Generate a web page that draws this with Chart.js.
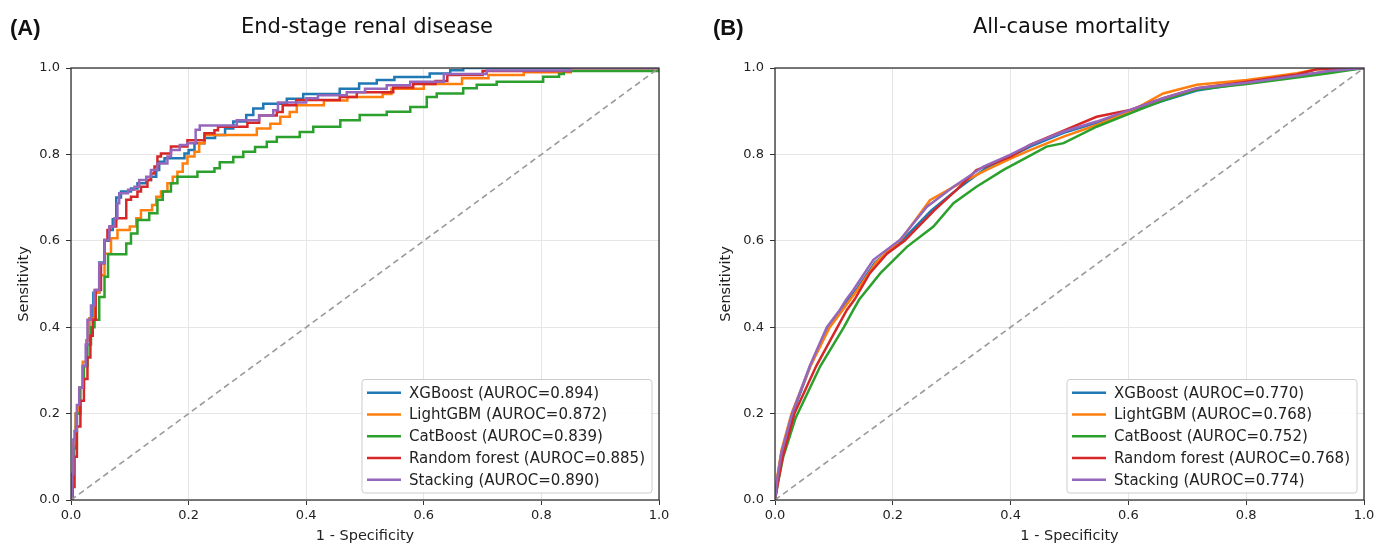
<!DOCTYPE html>
<html>
<head>
<meta charset="utf-8">
<title>ROC curves</title>
<script src="https://cdn.jsdelivr.net/npm/chart.js@4.4.1/dist/chart.umd.min.js"></script>
<style>
    html, body { margin: 0; padding: 0; background: #ffffff; overflow: hidden; }
    .panel { position: absolute; top: 0; height: 545px; }
    #panel-a { left: 0; width: 688px; }
    #panel-b { left: 688px; width: 700px; }
</style>
</head>
<body>
<div class="panel" id="panel-a"><canvas id="chart-a" width="688" height="545"></canvas></div>
<div class="panel" id="panel-b"><canvas id="chart-b" width="700" height="545"></canvas></div>
<script>
var model_names = ["XGBoost", "LightGBM", "CatBoost", "Random forest", "Stacking"];
var model_colors = ["#1f77b4", "#ff7f0e", "#2ca02c", "#d62728", "#9467bd"];
var esrd_auroc = [0.894, 0.872, 0.839, 0.885, 0.890];
var mort_auroc = [0.770, 0.768, 0.752, 0.768, 0.774];
var axis_ticks = [0, 0.2, 0.4, 0.6, 0.8, 1.0];

// End-stage renal disease: [1 - specificity, sensitivity], each point is where the step rises to
var esrd_xgb = [[0,0],[0.002,0.05],[0.004,0.12],[0.008,0.2],[0.014,0.26],[0.02,0.31],[0.026,0.37],[0.031,0.42],[0.038,0.48],[0.048,0.55],[0.057,0.6],[0.065,0.625],[0.071,0.65],[0.077,0.7],[0.085,0.714],[0.102,0.721],[0.113,0.733],[0.128,0.741],[0.136,0.748],[0.145,0.764],[0.15,0.783],[0.159,0.791],[0.193,0.802],[0.2,0.81],[0.21,0.826],[0.227,0.838],[0.245,0.845],[0.262,0.86],[0.276,0.876],[0.298,0.891],[0.31,0.906],[0.327,0.917],[0.367,0.929],[0.395,0.94],[0.457,0.952],[0.49,0.964],[0.52,0.972],[0.55,0.979],[0.61,0.987],[0.645,0.995],[0.667,1],[1,1]];
var esrd_lgb = [[0,0],[0.002,0.06],[0.004,0.13],[0.008,0.2],[0.014,0.26],[0.02,0.32],[0.026,0.37],[0.031,0.42],[0.04,0.48],[0.048,0.52],[0.057,0.57],[0.068,0.606],[0.079,0.625],[0.1,0.633],[0.111,0.652],[0.119,0.671],[0.138,0.683],[0.145,0.702],[0.153,0.714],[0.164,0.733],[0.173,0.748],[0.181,0.76],[0.19,0.779],[0.198,0.795],[0.21,0.806],[0.218,0.826],[0.227,0.845],[0.316,0.86],[0.339,0.871],[0.356,0.887],[0.372,0.898],[0.384,0.914],[0.43,0.925],[0.47,0.933],[0.53,0.94],[0.545,0.952],[0.6,0.963],[0.665,0.976],[0.71,0.984],[0.77,0.99],[0.85,1],[1,1]];
var esrd_cat = [[0,0],[0.002,0.05],[0.005,0.12],[0.01,0.2],[0.016,0.26],[0.022,0.31],[0.028,0.36],[0.034,0.4],[0.04,0.417],[0.048,0.47],[0.057,0.517],[0.063,0.569],[0.094,0.594],[0.102,0.617],[0.113,0.648],[0.133,0.664],[0.147,0.695],[0.156,0.714],[0.17,0.733],[0.181,0.748],[0.215,0.76],[0.244,0.768],[0.253,0.782],[0.276,0.794],[0.293,0.806],[0.313,0.817],[0.333,0.829],[0.35,0.84],[0.389,0.852],[0.412,0.864],[0.458,0.879],[0.491,0.891],[0.537,0.899],[0.577,0.91],[0.605,0.933],[0.622,0.941],[0.667,0.953],[0.69,0.961],[0.724,0.968],[0.803,0.98],[0.83,0.986],[0.838,0.993],[1,1]];
var esrd_rf = [[0,0],[0.003,0.03],[0.006,0.1],[0.01,0.17],[0.016,0.23],[0.022,0.28],[0.028,0.33],[0.033,0.38],[0.037,0.417],[0.042,0.486],[0.051,0.548],[0.057,0.602],[0.062,0.625],[0.066,0.633],[0.077,0.652],[0.094,0.695],[0.102,0.702],[0.113,0.714],[0.119,0.725],[0.13,0.741],[0.136,0.756],[0.142,0.772],[0.147,0.795],[0.153,0.802],[0.17,0.818],[0.198,0.833],[0.227,0.849],[0.244,0.856],[0.25,0.864],[0.3,0.873],[0.32,0.89],[0.35,0.898],[0.36,0.914],[0.383,0.926],[0.457,0.933],[0.486,0.944],[0.548,0.955],[0.582,0.963],[0.62,0.97],[0.64,0.984],[0.7,0.993],[0.85,1],[1,1]];
var esrd_stack = [[0,0],[0.002,0.06],[0.004,0.14],[0.006,0.16],[0.01,0.22],[0.014,0.26],[0.02,0.31],[0.025,0.36],[0.028,0.417],[0.034,0.45],[0.04,0.486],[0.048,0.548],[0.057,0.602],[0.065,0.633],[0.074,0.652],[0.079,0.687],[0.082,0.71],[0.097,0.718],[0.108,0.725],[0.116,0.741],[0.128,0.748],[0.136,0.764],[0.147,0.779],[0.164,0.795],[0.17,0.81],[0.185,0.822],[0.198,0.826],[0.212,0.857],[0.219,0.867],[0.282,0.879],[0.32,0.89],[0.344,0.902],[0.352,0.92],[0.4,0.93],[0.42,0.937],[0.469,0.944],[0.5,0.952],[0.537,0.96],[0.577,0.968],[0.634,0.986],[0.707,0.994],[0.85,1],[1,1]];

// All-cause mortality: [1 - specificity, sensitivity]
var mort_xgb = [[0,0],[0.004,0.05],[0.011,0.11],[0.03,0.2],[0.06,0.31],[0.09,0.4],[0.112,0.44],[0.125,0.464],[0.14,0.49],[0.17,0.55],[0.215,0.6],[0.265,0.67],[0.31,0.72],[0.36,0.77],[0.4,0.795],[0.433,0.818],[0.49,0.85],[0.546,0.873],[0.603,0.898],[0.659,0.924],[0.716,0.948],[0.801,0.966],[0.886,0.982],[0.94,0.992],[1,1]];
var mort_lgb = [[0,0],[0.004,0.055],[0.011,0.115],[0.028,0.2],[0.06,0.31],[0.093,0.4],[0.115,0.44],[0.128,0.464],[0.142,0.49],[0.172,0.55],[0.215,0.605],[0.263,0.694],[0.31,0.73],[0.36,0.765],[0.4,0.79],[0.433,0.81],[0.49,0.841],[0.546,0.868],[0.603,0.899],[0.659,0.941],[0.716,0.961],[0.801,0.972],[0.886,0.988],[0.92,0.997],[1,1]];
var mort_cat = [[0,0],[0.005,0.04],[0.014,0.1],[0.035,0.19],[0.077,0.31],[0.117,0.4],[0.133,0.44],[0.143,0.464],[0.179,0.525],[0.224,0.586],[0.269,0.633],[0.303,0.687],[0.342,0.725],[0.388,0.764],[0.433,0.797],[0.461,0.818],[0.49,0.826],[0.546,0.864],[0.603,0.895],[0.659,0.925],[0.716,0.95],[0.801,0.963],[0.886,0.978],[0.94,0.988],[1,1]];
var mort_rf = [[0,0],[0.005,0.04],[0.013,0.1],[0.033,0.2],[0.07,0.31],[0.106,0.4],[0.122,0.44],[0.135,0.464],[0.161,0.525],[0.19,0.57],[0.22,0.6],[0.27,0.67],[0.31,0.72],[0.342,0.764],[0.4,0.795],[0.433,0.822],[0.49,0.855],[0.546,0.887],[0.603,0.903],[0.659,0.93],[0.716,0.953],[0.801,0.968],[0.886,0.985],[0.92,0.997],[1,1]];
var mort_stack = [[0,0],[0.004,0.05],[0.011,0.11],[0.029,0.2],[0.059,0.31],[0.088,0.4],[0.11,0.44],[0.121,0.464],[0.133,0.486],[0.167,0.556],[0.212,0.602],[0.258,0.679],[0.303,0.725],[0.354,0.772],[0.399,0.799],[0.433,0.822],[0.461,0.837],[0.49,0.853],[0.546,0.876],[0.603,0.903],[0.659,0.93],[0.716,0.953],[0.801,0.966],[0.886,0.982],[0.94,0.993],[1,1]];

var chance_line = [[0,0],[1,1]];

var tick_font = {family: "DejaVu Sans", size: 13};
var label_font = {family: "DejaVu Sans", size: 14.5};


function toPoints(pairs)
{
    return pairs.map(function(p){ return {x: p[0], y: p[1]}; });
}


// Draws the panel tag, the title, the box round the axes and the legend
var panelDecor = {
    id: "panelDecor",
    afterDatasetsDraw: function(chart, args, opts)
    {
        var ctx = chart.ctx;
        var area = chart.chartArea;
        ctx.save();

        // spines on all four sides
        ctx.strokeStyle = "#333333";
        ctx.lineWidth = 1.3;
        ctx.strokeRect(area.left, area.top, area.right - area.left, area.bottom - area.top);

        // tag and title
        ctx.fillStyle = "#111111";
        ctx.textBaseline = "middle";
        ctx.textAlign = "left";
        ctx.font = "bold 22px 'Liberation Sans', Arial, sans-serif";
        ctx.fillText(opts.tag, opts.tagX, 29);
        ctx.textAlign = "center";
        ctx.font = "21px 'DejaVu Sans', sans-serif";
        ctx.fillText(opts.title, (area.left + area.right) / 2 + 2, 28);

        // legend, bottom right inside the axes
        var items = chart.data.datasets.filter(function(d){ return d.inLegend; });
        ctx.font = "15px 'DejaVu Sans', sans-serif";
        var maxw = 0;
        for (var i = 0; i < items.length; ++i)
        {
            maxw = Math.max(maxw, ctx.measureText(items[i].label).width);
        }
        var rowH = 21.7;
        var w = maxw + 47 + 7;
        var h = items.length * rowH + 5;
        var x0 = area.right - 7 - w;
        var y0 = area.bottom - 7 - h;

        ctx.beginPath();
        ctx.roundRect(x0, y0, w, h, 3);
        ctx.fillStyle = "rgba(255,255,255,0.85)";
        ctx.fill();
        ctx.strokeStyle = "#cccccc";
        ctx.lineWidth = 1;
        ctx.stroke();

        ctx.textAlign = "left";
        for (var j = 0; j < items.length; ++j)
        {
            var cy = y0 + 2.5 + rowH * (j + 0.5);
            ctx.beginPath();
            ctx.strokeStyle = items[j].borderColor;
            ctx.lineWidth = 2.5;
            ctx.moveTo(x0 + 5, cy);
            ctx.lineTo(x0 + 39, cy);
            ctx.stroke();
            ctx.fillStyle = "#222222";
            ctx.fillText(items[j].label, x0 + 47, cy + 1);
        }
        ctx.restore();
    }
};


function makePanel(canvas_id, curves, aurocs, stepped, decor, yAxisWidth, yTitlePad, rightPad)
{
    var datasets = [];
    for (var i = 0; i < curves.length; ++i)
    {
        datasets.push({
            label: model_names[i] + " (AUROC=" + aurocs[i].toFixed(3) + ")",
            data: toPoints(curves[i]),
            borderColor: model_colors[i],
            borderWidth: 2.5,
            pointRadius: 0,
            fill: false,
            stepped: stepped,
            tension: 0,
            order: curves.length - i,
            inLegend: true
        });
    }
    datasets.push({
        label: "chance",
        data: toPoints(chance_line),
        borderColor: "#9a9a9a",
        borderWidth: 1.6,
        borderDash: [6, 4],
        pointRadius: 0,
        fill: false,
        order: 0,
        inLegend: false
    });

    var ctx = document.getElementById(canvas_id).getContext("2d");
    return new Chart(ctx, {
        type: "line",
        data: {datasets: datasets},
        plugins: [panelDecor],
        options: {
            responsive: false,
            animation: false,
            devicePixelRatio: 1,
            layout: {padding: {left: 0, right: rightPad, top: 68, bottom: 0}},
            plugins: {
                legend: {display: false},
                tooltip: {enabled: false},
                panelDecor: decor
            },
            scales: {
                x: {
                    type: "linear",
                    min: 0,
                    max: 1,
                    afterBuildTicks: function(scale){
                        scale.ticks = axis_ticks.map(function(v){ return {value: v}; });
                    },
                    ticks: {
                        font: tick_font,
                        color: "#222222",
                        padding: 3,
                        maxRotation: 0,
                        callback: function(v){ return v.toFixed(1); }
                    },
                    grid: {color: "#e6e6e6", lineWidth: 1, tickColor: "#333333", tickLength: 5},
                    border: {display: false},
                    title: {display: true, text: "1 - Specificity", font: label_font, color: "#222222", padding: {top: 0, bottom: 0}},
                    afterFit: function(scale){ scale.height = 45; }
                },
                y: {
                    type: "linear",
                    min: 0,
                    max: 1,
                    afterBuildTicks: function(scale){
                        scale.ticks = axis_ticks.map(function(v){ return {value: v}; });
                    },
                    ticks: {
                        font: tick_font,
                        color: "#222222",
                        padding: 6,
                        callback: function(v){ return v.toFixed(1); }
                    },
                    grid: {color: "#e6e6e6", lineWidth: 1, tickColor: "#333333", tickLength: 5},
                    border: {display: false},
                    title: {display: true, text: "Sensitivity", font: label_font, color: "#222222", padding: {top: yTitlePad, bottom: 0}},
                    afterFit: function(scale){ scale.width = yAxisWidth; }
                }
            }
        }
    });
}


makePanel("chart-a",
    [esrd_xgb, esrd_lgb, esrd_cat, esrd_rf, esrd_stack],
    esrd_auroc, "before",
    {tag: "(A)", tagX: 10, title: "End-stage renal disease"},
    71, 16, 29);

makePanel("chart-b",
    [mort_xgb, mort_lgb, mort_cat, mort_rf, mort_stack],
    mort_auroc, false,
    {tag: "(B)", tagX: 25, title: "All-cause mortality"},
    87, 30, 24);
</script>
</body>
</html>
